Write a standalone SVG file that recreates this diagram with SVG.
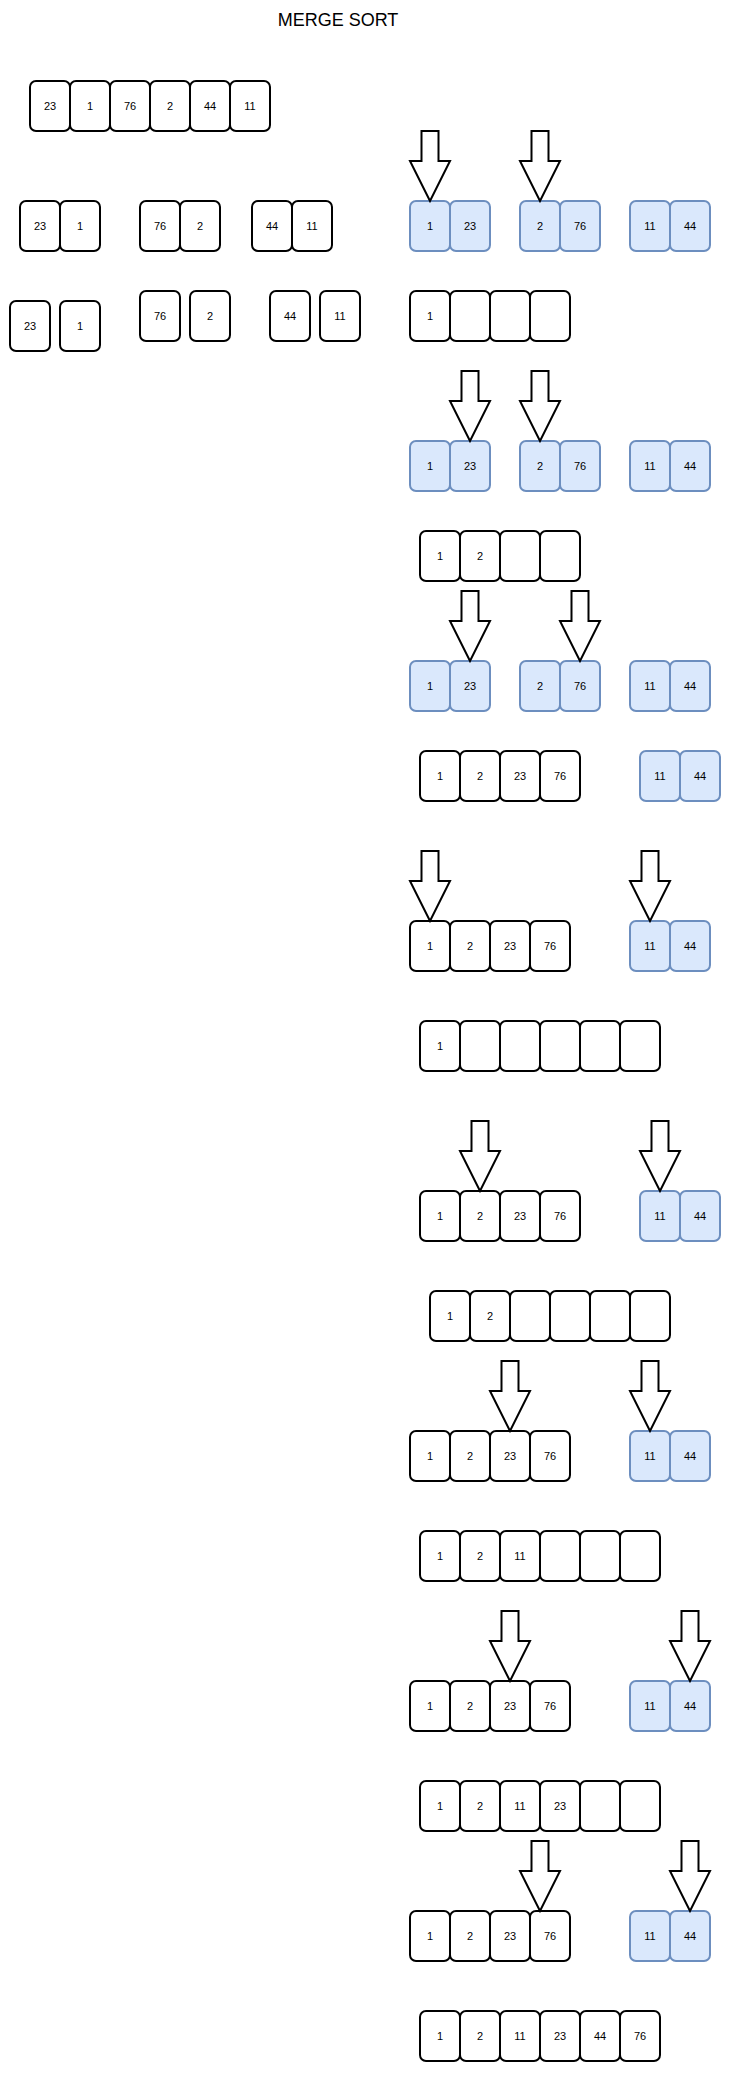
<svg xmlns="http://www.w3.org/2000/svg" xmlns:xlink="http://www.w3.org/1999/xlink" width="733" height="2073" viewBox="0 0 733 2073">
<style>
.c{fill:#ffffff;stroke:#000000;stroke-width:2}
.b{fill:#dae8fc;stroke:#6c8ebf;stroke-width:2}
.t{font-family:"Liberation Sans",Arial,sans-serif;font-size:11px;fill:#000000;text-anchor:middle}
.h{font-family:"Liberation Sans",Arial,sans-serif;font-size:18px;fill:#000000;text-anchor:middle}
.a{fill:#ffffff;stroke:#000000;stroke-width:2;stroke-linejoin:miter}
</style>
<defs>
<path id="arr" d="M-8.5,0 H8.5 V30 H20 L0,70 L-20,30 H-8.5 Z"/>
</defs>
<rect width="733" height="2073" fill="#ffffff"/>
<text class="h" x="338" y="26">MERGE SORT</text>

<!-- Row A -->
<g id="a1"><rect class="c" x="30" y="81" width="40" height="50" rx="6"/><text class="t" x="50" y="110">23</text></g>
<g id="a2"><rect class="c" x="70" y="81" width="40" height="50" rx="6"/><text class="t" x="90" y="110">1</text></g>
<g id="a3"><rect class="c" x="110" y="81" width="40" height="50" rx="6"/><text class="t" x="130" y="110">76</text></g>
<g id="a4"><rect class="c" x="150" y="81" width="40" height="50" rx="6"/><text class="t" x="170" y="110">2</text></g>
<g id="a5"><rect class="c" x="190" y="81" width="40" height="50" rx="6"/><text class="t" x="210" y="110">44</text></g>
<g id="a6"><rect class="c" x="230" y="81" width="40" height="50" rx="6"/><text class="t" x="250" y="110">11</text></g>

<!-- Row B -->
<g id="b1"><rect class="c" x="20" y="201" width="40" height="50" rx="6"/><text class="t" x="40" y="230">23</text></g>
<g id="b2"><rect class="c" x="60" y="201" width="40" height="50" rx="6"/><text class="t" x="80" y="230">1</text></g>
<g id="b3"><rect class="c" x="140" y="201" width="40" height="50" rx="6"/><text class="t" x="160" y="230">76</text></g>
<g id="b4"><rect class="c" x="180" y="201" width="40" height="50" rx="6"/><text class="t" x="200" y="230">2</text></g>
<g id="b5"><rect class="c" x="252" y="201" width="40" height="50" rx="6"/><text class="t" x="272" y="230">44</text></g>
<g id="b6"><rect class="c" x="292" y="201" width="40" height="50" rx="6"/><text class="t" x="312" y="230">11</text></g>

<!-- Row C -->
<g id="c1"><rect class="c" x="10" y="301" width="40" height="50" rx="6"/><text class="t" x="30" y="330">23</text></g>
<g id="c2"><rect class="c" x="60" y="301" width="40" height="50" rx="6"/><text class="t" x="80" y="330">1</text></g>
<g id="c3"><rect class="c" x="140" y="291" width="40" height="50" rx="6"/><text class="t" x="160" y="320">76</text></g>
<g id="c4"><rect class="c" x="190" y="291" width="40" height="50" rx="6"/><text class="t" x="210" y="320">2</text></g>
<g id="c5"><rect class="c" x="270" y="291" width="40" height="50" rx="6"/><text class="t" x="290" y="320">44</text></g>
<g id="c6"><rect class="c" x="320" y="291" width="40" height="50" rx="6"/><text class="t" x="340" y="320">11</text></g>

<!-- Step 1 -->
<g id="s1b1"><rect class="b" x="410" y="201" width="40" height="50" rx="6"/><text class="t" x="430" y="230">1</text></g>
<g id="s1b2"><rect class="b" x="450" y="201" width="40" height="50" rx="6"/><text class="t" x="470" y="230">23</text></g>
<g id="s1b3"><rect class="b" x="520" y="201" width="40" height="50" rx="6"/><text class="t" x="540" y="230">2</text></g>
<g id="s1b4"><rect class="b" x="560" y="201" width="40" height="50" rx="6"/><text class="t" x="580" y="230">76</text></g>
<g id="s1b5"><rect class="b" x="630" y="201" width="40" height="50" rx="6"/><text class="t" x="650" y="230">11</text></g>
<g id="s1b6"><rect class="b" x="670" y="201" width="40" height="50" rx="6"/><text class="t" x="690" y="230">44</text></g>
<g id="r1c1"><rect class="c" x="410" y="291" width="40" height="50" rx="6"/><text class="t" x="430" y="320">1</text></g>
<g id="r1c2"><rect class="c" x="450" y="291" width="40" height="50" rx="6"/></g>
<g id="r1c3"><rect class="c" x="490" y="291" width="40" height="50" rx="6"/></g>
<g id="r1c4"><rect class="c" x="530" y="291" width="40" height="50" rx="6"/></g>

<!-- Step 2 -->
<g id="s2b1"><rect class="b" x="410" y="441" width="40" height="50" rx="6"/><text class="t" x="430" y="470">1</text></g>
<g id="s2b2"><rect class="b" x="450" y="441" width="40" height="50" rx="6"/><text class="t" x="470" y="470">23</text></g>
<g id="s2b3"><rect class="b" x="520" y="441" width="40" height="50" rx="6"/><text class="t" x="540" y="470">2</text></g>
<g id="s2b4"><rect class="b" x="560" y="441" width="40" height="50" rx="6"/><text class="t" x="580" y="470">76</text></g>
<g id="s2b5"><rect class="b" x="630" y="441" width="40" height="50" rx="6"/><text class="t" x="650" y="470">11</text></g>
<g id="s2b6"><rect class="b" x="670" y="441" width="40" height="50" rx="6"/><text class="t" x="690" y="470">44</text></g>
<g id="r2c1"><rect class="c" x="420" y="531" width="40" height="50" rx="6"/><text class="t" x="440" y="560">1</text></g>
<g id="r2c2"><rect class="c" x="460" y="531" width="40" height="50" rx="6"/><text class="t" x="480" y="560">2</text></g>
<g id="r2c3"><rect class="c" x="500" y="531" width="40" height="50" rx="6"/></g>
<g id="r2c4"><rect class="c" x="540" y="531" width="40" height="50" rx="6"/></g>

<!-- Step 3 -->
<g id="s3b1"><rect class="b" x="410" y="661" width="40" height="50" rx="6"/><text class="t" x="430" y="690">1</text></g>
<g id="s3b2"><rect class="b" x="450" y="661" width="40" height="50" rx="6"/><text class="t" x="470" y="690">23</text></g>
<g id="s3b3"><rect class="b" x="520" y="661" width="40" height="50" rx="6"/><text class="t" x="540" y="690">2</text></g>
<g id="s3b4"><rect class="b" x="560" y="661" width="40" height="50" rx="6"/><text class="t" x="580" y="690">76</text></g>
<g id="s3b5"><rect class="b" x="630" y="661" width="40" height="50" rx="6"/><text class="t" x="650" y="690">11</text></g>
<g id="s3b6"><rect class="b" x="670" y="661" width="40" height="50" rx="6"/><text class="t" x="690" y="690">44</text></g>
<g id="r3c1"><rect class="c" x="420" y="751" width="40" height="50" rx="6"/><text class="t" x="440" y="780">1</text></g>
<g id="r3c2"><rect class="c" x="460" y="751" width="40" height="50" rx="6"/><text class="t" x="480" y="780">2</text></g>
<g id="r3c3"><rect class="c" x="500" y="751" width="40" height="50" rx="6"/><text class="t" x="520" y="780">23</text></g>
<g id="r3c4"><rect class="c" x="540" y="751" width="40" height="50" rx="6"/><text class="t" x="560" y="780">76</text></g>
<g id="r3b1"><rect class="b" x="640" y="751" width="40" height="50" rx="6"/><text class="t" x="660" y="780">11</text></g>
<g id="r3b2"><rect class="b" x="680" y="751" width="40" height="50" rx="6"/><text class="t" x="700" y="780">44</text></g>

<!-- Step 4 -->
<g id="s4c1"><rect class="c" x="410" y="921" width="40" height="50" rx="6"/><text class="t" x="430" y="950">1</text></g>
<g id="s4c2"><rect class="c" x="450" y="921" width="40" height="50" rx="6"/><text class="t" x="470" y="950">2</text></g>
<g id="s4c3"><rect class="c" x="490" y="921" width="40" height="50" rx="6"/><text class="t" x="510" y="950">23</text></g>
<g id="s4c4"><rect class="c" x="530" y="921" width="40" height="50" rx="6"/><text class="t" x="550" y="950">76</text></g>
<g id="s4b1"><rect class="b" x="630" y="921" width="40" height="50" rx="6"/><text class="t" x="650" y="950">11</text></g>
<g id="s4b2"><rect class="b" x="670" y="921" width="40" height="50" rx="6"/><text class="t" x="690" y="950">44</text></g>
<g id="r4c1"><rect class="c" x="420" y="1021" width="40" height="50" rx="6"/><text class="t" x="440" y="1050">1</text></g>
<g id="r4c2"><rect class="c" x="460" y="1021" width="40" height="50" rx="6"/></g>
<g id="r4c3"><rect class="c" x="500" y="1021" width="40" height="50" rx="6"/></g>
<g id="r4c4"><rect class="c" x="540" y="1021" width="40" height="50" rx="6"/></g>
<g id="r4c5"><rect class="c" x="580" y="1021" width="40" height="50" rx="6"/></g>
<g id="r4c6"><rect class="c" x="620" y="1021" width="40" height="50" rx="6"/></g>

<!-- Step 5 -->
<g id="s5c1"><rect class="c" x="420" y="1191" width="40" height="50" rx="6"/><text class="t" x="440" y="1220">1</text></g>
<g id="s5c2"><rect class="c" x="460" y="1191" width="40" height="50" rx="6"/><text class="t" x="480" y="1220">2</text></g>
<g id="s5c3"><rect class="c" x="500" y="1191" width="40" height="50" rx="6"/><text class="t" x="520" y="1220">23</text></g>
<g id="s5c4"><rect class="c" x="540" y="1191" width="40" height="50" rx="6"/><text class="t" x="560" y="1220">76</text></g>
<g id="s5b1"><rect class="b" x="640" y="1191" width="40" height="50" rx="6"/><text class="t" x="660" y="1220">11</text></g>
<g id="s5b2"><rect class="b" x="680" y="1191" width="40" height="50" rx="6"/><text class="t" x="700" y="1220">44</text></g>
<g id="r5c1"><rect class="c" x="430" y="1291" width="40" height="50" rx="6"/><text class="t" x="450" y="1320">1</text></g>
<g id="r5c2"><rect class="c" x="470" y="1291" width="40" height="50" rx="6"/><text class="t" x="490" y="1320">2</text></g>
<g id="r5c3"><rect class="c" x="510" y="1291" width="40" height="50" rx="6"/></g>
<g id="r5c4"><rect class="c" x="550" y="1291" width="40" height="50" rx="6"/></g>
<g id="r5c5"><rect class="c" x="590" y="1291" width="40" height="50" rx="6"/></g>
<g id="r5c6"><rect class="c" x="630" y="1291" width="40" height="50" rx="6"/></g>

<!-- Step 6 -->
<g id="s6c1"><rect class="c" x="410" y="1431" width="40" height="50" rx="6"/><text class="t" x="430" y="1460">1</text></g>
<g id="s6c2"><rect class="c" x="450" y="1431" width="40" height="50" rx="6"/><text class="t" x="470" y="1460">2</text></g>
<g id="s6c3"><rect class="c" x="490" y="1431" width="40" height="50" rx="6"/><text class="t" x="510" y="1460">23</text></g>
<g id="s6c4"><rect class="c" x="530" y="1431" width="40" height="50" rx="6"/><text class="t" x="550" y="1460">76</text></g>
<g id="s6b1"><rect class="b" x="630" y="1431" width="40" height="50" rx="6"/><text class="t" x="650" y="1460">11</text></g>
<g id="s6b2"><rect class="b" x="670" y="1431" width="40" height="50" rx="6"/><text class="t" x="690" y="1460">44</text></g>
<g id="r6c1"><rect class="c" x="420" y="1531" width="40" height="50" rx="6"/><text class="t" x="440" y="1560">1</text></g>
<g id="r6c2"><rect class="c" x="460" y="1531" width="40" height="50" rx="6"/><text class="t" x="480" y="1560">2</text></g>
<g id="r6c3"><rect class="c" x="500" y="1531" width="40" height="50" rx="6"/><text class="t" x="520" y="1560">11</text></g>
<g id="r6c4"><rect class="c" x="540" y="1531" width="40" height="50" rx="6"/></g>
<g id="r6c5"><rect class="c" x="580" y="1531" width="40" height="50" rx="6"/></g>
<g id="r6c6"><rect class="c" x="620" y="1531" width="40" height="50" rx="6"/></g>

<!-- Step 7 -->
<g id="s7c1"><rect class="c" x="410" y="1681" width="40" height="50" rx="6"/><text class="t" x="430" y="1710">1</text></g>
<g id="s7c2"><rect class="c" x="450" y="1681" width="40" height="50" rx="6"/><text class="t" x="470" y="1710">2</text></g>
<g id="s7c3"><rect class="c" x="490" y="1681" width="40" height="50" rx="6"/><text class="t" x="510" y="1710">23</text></g>
<g id="s7c4"><rect class="c" x="530" y="1681" width="40" height="50" rx="6"/><text class="t" x="550" y="1710">76</text></g>
<g id="s7b1"><rect class="b" x="630" y="1681" width="40" height="50" rx="6"/><text class="t" x="650" y="1710">11</text></g>
<g id="s7b2"><rect class="b" x="670" y="1681" width="40" height="50" rx="6"/><text class="t" x="690" y="1710">44</text></g>
<g id="r7c1"><rect class="c" x="420" y="1781" width="40" height="50" rx="6"/><text class="t" x="440" y="1810">1</text></g>
<g id="r7c2"><rect class="c" x="460" y="1781" width="40" height="50" rx="6"/><text class="t" x="480" y="1810">2</text></g>
<g id="r7c3"><rect class="c" x="500" y="1781" width="40" height="50" rx="6"/><text class="t" x="520" y="1810">11</text></g>
<g id="r7c4"><rect class="c" x="540" y="1781" width="40" height="50" rx="6"/><text class="t" x="560" y="1810">23</text></g>
<g id="r7c5"><rect class="c" x="580" y="1781" width="40" height="50" rx="6"/></g>
<g id="r7c6"><rect class="c" x="620" y="1781" width="40" height="50" rx="6"/></g>

<!-- Step 8 -->
<g id="s8c1"><rect class="c" x="410" y="1911" width="40" height="50" rx="6"/><text class="t" x="430" y="1940">1</text></g>
<g id="s8c2"><rect class="c" x="450" y="1911" width="40" height="50" rx="6"/><text class="t" x="470" y="1940">2</text></g>
<g id="s8c3"><rect class="c" x="490" y="1911" width="40" height="50" rx="6"/><text class="t" x="510" y="1940">23</text></g>
<g id="s8c4"><rect class="c" x="530" y="1911" width="40" height="50" rx="6"/><text class="t" x="550" y="1940">76</text></g>
<g id="s8b1"><rect class="b" x="630" y="1911" width="40" height="50" rx="6"/><text class="t" x="650" y="1940">11</text></g>
<g id="s8b2"><rect class="b" x="670" y="1911" width="40" height="50" rx="6"/><text class="t" x="690" y="1940">44</text></g>
<g id="r8c1"><rect class="c" x="420" y="2011" width="40" height="50" rx="6"/><text class="t" x="440" y="2040">1</text></g>
<g id="r8c2"><rect class="c" x="460" y="2011" width="40" height="50" rx="6"/><text class="t" x="480" y="2040">2</text></g>
<g id="r8c3"><rect class="c" x="500" y="2011" width="40" height="50" rx="6"/><text class="t" x="520" y="2040">11</text></g>
<g id="r8c4"><rect class="c" x="540" y="2011" width="40" height="50" rx="6"/><text class="t" x="560" y="2040">23</text></g>
<g id="r8c5"><rect class="c" x="580" y="2011" width="40" height="50" rx="6"/><text class="t" x="600" y="2040">44</text></g>
<g id="r8c6"><rect class="c" x="620" y="2011" width="40" height="50" rx="6"/><text class="t" x="640" y="2040">76</text></g>

<!-- Arrows -->
<g id="connectors">
<use xlink:href="#arr" class="a" transform="translate(430,131)"/>
<use xlink:href="#arr" class="a" transform="translate(540,131)"/>
<use xlink:href="#arr" class="a" transform="translate(470,371)"/>
<use xlink:href="#arr" class="a" transform="translate(540,371)"/>
<use xlink:href="#arr" class="a" transform="translate(470,591)"/>
<use xlink:href="#arr" class="a" transform="translate(580,591)"/>
<use xlink:href="#arr" class="a" transform="translate(430,851)"/>
<use xlink:href="#arr" class="a" transform="translate(650,851)"/>
<use xlink:href="#arr" class="a" transform="translate(480,1121)"/>
<use xlink:href="#arr" class="a" transform="translate(660,1121)"/>
<use xlink:href="#arr" class="a" transform="translate(510,1361)"/>
<use xlink:href="#arr" class="a" transform="translate(650,1361)"/>
<use xlink:href="#arr" class="a" transform="translate(510,1611)"/>
<use xlink:href="#arr" class="a" transform="translate(690,1611)"/>
<use xlink:href="#arr" class="a" transform="translate(540,1841)"/>
<use xlink:href="#arr" class="a" transform="translate(690,1841)"/>
</g>
</svg>
